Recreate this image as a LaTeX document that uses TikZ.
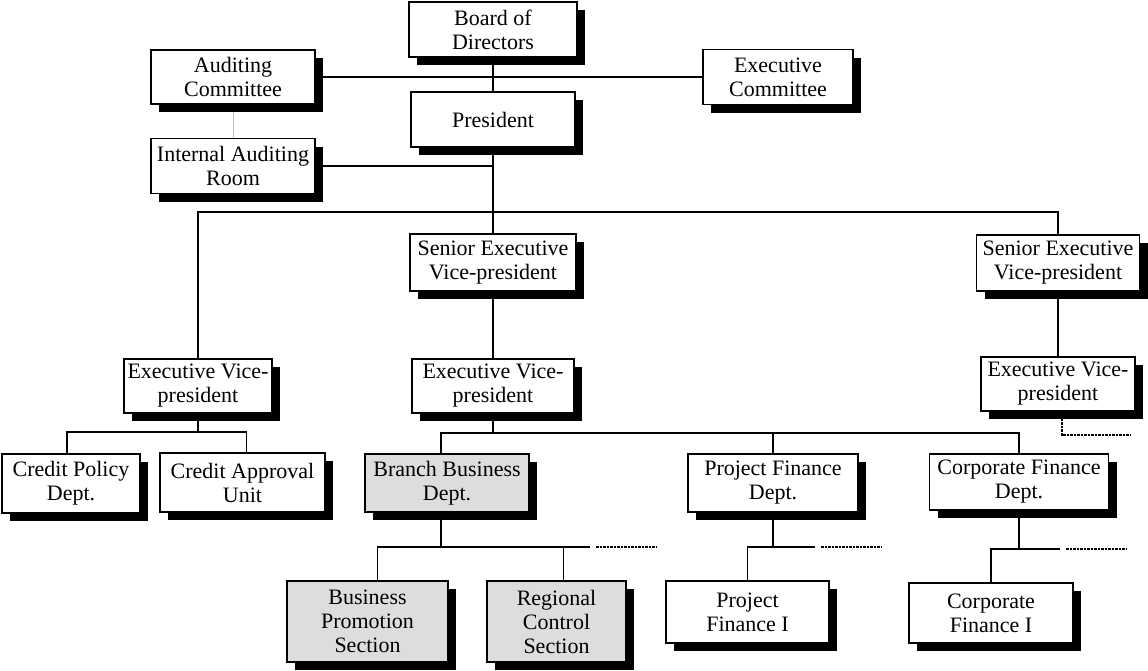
\documentclass[tikz,border=0pt]{standalone}
\usepackage{fontspec}
\setmainfont{Liberation Serif}
\usetikzlibrary{shadows}
\definecolor{unitgray}{RGB}{221,221,221}
\begin{document}
\begin{tikzpicture}[x=1pt, y=-1pt,
    orgbox/.style={draw, line width=1.5pt, fill=white, align=center, inner sep=1pt,
      font=\fontsize{22}{24}\selectfont,
      drop shadow={shadow xshift=8pt, shadow yshift=-8pt, fill=black, opacity=1}},
    graybox/.style={orgbox, fill=unitgray},
    wire/.style={line width=1.6pt},
    trail/.style={line width=1.8pt, dash pattern=on 2.5pt off 1pt}]
    \useasboundingbox (0,0) rectangle (1148,670);

    % Top level
    \node (board) [orgbox, minimum width=168, minimum height=55] at (493,29.5) {Board of\\Directors};
    \node (pres) [orgbox, minimum width=164, minimum height=55] at (493,119.5) {President};
    \node (audit) [orgbox, minimum width=164, minimum height=54] at (233,77) {Auditing\\Committee};
    \node (exec) [orgbox, minimum width=150, minimum height=55] at (778,77) {Executive\\Committee};
    \node (internal) [orgbox, minimum width=164, minimum height=55] at (233,166) {Internal Auditing\\Room};

    % Vice-presidents
    \node (sevpA) [orgbox, minimum width=166, minimum height=57] at (493,262.5) {Senior Executive\\Vice-president};
    \node (sevpB) [orgbox, minimum width=163, minimum height=56] at (1058,263) {Senior Executive\\Vice-president};
    \node (evpA) [orgbox, minimum width=148, minimum height=54] at (198,386) {Executive Vice-\\president};
    \node (evpB) [orgbox, minimum width=162, minimum height=54] at (493,386) {Executive Vice-\\president};
    \node (evpC) [orgbox, minimum width=154, minimum height=54] at (1058,384) {Executive Vice-\\president};

    % Departments
    \node (policy) [orgbox, minimum width=138, minimum height=59] at (71,483.5) {Credit Policy\\Dept.};
    \node (approval) [orgbox, minimum width=165, minimum height=59] at (242.5,482.5) {Credit Approval\\Unit};
    \node (branch) [graybox, minimum width=164, minimum height=58] at (447,483) {Branch Business\\Dept.};
    \node (project) [orgbox, minimum width=170, minimum height=58] at (773,483) {Project Finance\\Dept.};
    \node (corporate) [orgbox, minimum width=179, minimum height=56] at (1019,482) {Corporate Finance\\Dept.};

    % Sections
    \node (promo) [graybox, minimum width=161, minimum height=81] at (367.5,621.5) {Business\\Promotion\\Section};
    \node (regional) [graybox, minimum width=139, minimum height=81] at (556.5,621.5) {Regional\\Control\\Section};
    \node (projI) [orgbox, minimum width=163, minimum height=62] at (747.5,612) {Project\\Finance I};
    \node (corpI) [orgbox, minimum width=164, minimum height=60] at (991,613) {Corporate\\Finance I};

    % Top connectors
    \draw[wire] (board) -- (pres);
    \draw[wire] (audit) -- (exec);
    \draw[wire] (internal.east) -- (internal.east -| pres.south);
    \draw[very thin, gray!50, shorten <=7pt] (audit) -- (internal);
    \coordinate (top bus) at (493,212);
    \draw[wire] (pres) -- (sevpA);
    \draw[wire] (evpA.north) |- (top bus) -| (sevpB.north);
    \draw[wire] (sevpA) -- (evpB);
    \draw[wire] (sevpB) -- (evpC);
    \coordinate (evpC end) at (1130,435);
    \draw[trail] ([xshift=4pt]evpC.south) |- (evpC end);

    % Left group
    \coordinate (left bus) at (198,432);
    \draw[wire] (evpA) -- (left bus);
    \draw[wire] ([xshift=-4pt]policy.north) |- (left bus) -| ([xshift=4pt]approval.north);

    % Middle group
    \coordinate (mid bus) at (493,433);
    \draw[wire] (evpB) -- (mid bus);
    \draw[wire] ([xshift=-6pt]branch.north) |- (mid bus) -| (corporate.north);
    \draw[wire] (project.north) -- (project.north |- mid bus);

    % Branch sections
    \coordinate (branch bus) at (441,547);
    \coordinate (branch end) at (590,547);
    \coordinate (branch dots) at (657,547);
    \draw[wire] ([xshift=-6pt]branch.south) -- (branch bus);
    \draw[wire] ([xshift=10pt]promo.north) |- (branch end);
    \draw[wire] ([xshift=7pt]regional.north) -- ([xshift=7pt]regional.north |- branch end);
    \draw[trail] ([xshift=6pt]branch end) -- (branch dots);

    % Project sections
    \coordinate (project bus) at (773,547);
    \coordinate (project end) at (815,547);
    \coordinate (project dots) at (882,547);
    \draw[wire] (project) -- (project bus);
    \draw[wire] (projI.north) |- (project end);
    \draw[trail] ([xshift=6pt]project end) -- (project dots);

    % Corporate sections
    \coordinate (corporate bus) at (1019,549);
    \coordinate (corporate end) at (1060,549);
    \coordinate (corporate dots) at (1126,549);
    \draw[wire] (corporate) -- (corporate bus);
    \draw[wire] (corpI.north) |- (corporate end);
    \draw[trail] ([xshift=6pt]corporate end) -- (corporate dots);
\end{tikzpicture}
\end{document}
